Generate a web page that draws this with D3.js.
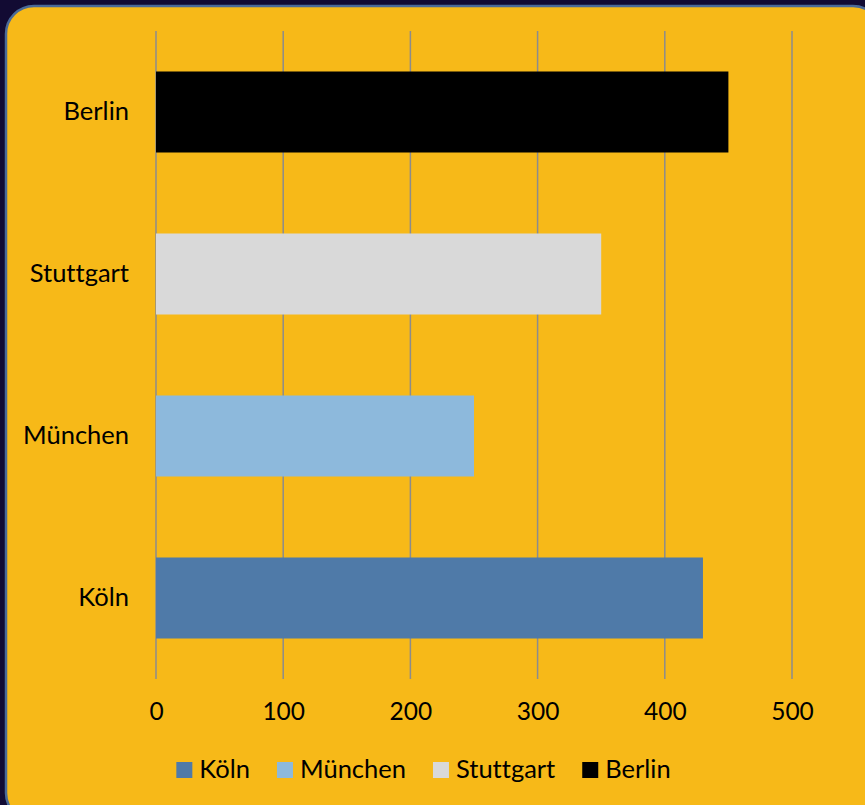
<!DOCTYPE html>
<html><head><meta charset="utf-8">
<script src="https://cdn.jsdelivr.net/npm/d3@7"></script>
<style>html,body{margin:0;padding:0;background:#120b33;overflow:hidden}text{font-variant-ligatures:none;font-feature-settings:"liga" 0}</style>
</head><body>
<svg id="chart" width="865" height="805"></svg>
<script>
const categories = ["Berlin", "Stuttgart", "München", "Köln"];
const values = [450, 350, 250, 430];
const colors = ["#000000", "#d9d9d9", "#8db9dc", "#4f7aa8"];
const legendOrder = ["Köln", "München", "Stuttgart", "Berlin"];
const xTicks = [0, 100, 200, 300, 400, 500];

const font = "Lato, 'Open Sans', sans-serif";
const svg = d3.select("#chart");
svg.append("rect").attr("width", 865).attr("height", 805).attr("fill", "#120b33");
svg.append("rect").attr("x", 6).attr("y", 6).attr("width", 875).attr("height", 815)
  .attr("rx", 28).attr("fill", "#f7b918").attr("stroke", "#4a6a98").attr("stroke-width", 2.5);

const x = d3.scaleLinear().domain([0, 500]).range([156, 792]);
const y = d3.scaleBand().domain(categories).range([31, 679]).paddingInner(0.5).paddingOuter(0.25);

// gridlines
svg.append("g").selectAll("line").data(xTicks).join("line")
  .attr("x1", d => x(d)).attr("x2", d => x(d)).attr("y1", 31).attr("y2", 679)
  .attr("stroke", "#8c8c8c").attr("stroke-width", 1.5);

// bars
svg.append("g").selectAll("rect").data(categories).join("rect")
  .attr("x", x(0)).attr("y", d => y(d))
  .attr("width", (d, i) => x(values[i]) - x(0)).attr("height", y.bandwidth())
  .attr("fill", (d, i) => colors[i]);

// x axis labels
const xAxis = d3.axisBottom(x).tickValues(xTicks).tickSize(0).tickPadding(0);
const gx = svg.append("g").attr("transform", "translate(0,705)").call(xAxis);
gx.select(".domain").remove();
gx.selectAll("text").attr("font-family", font).attr("font-size", 24.5).attr("fill", "#000")
  .attr("dy", "0.71em").attr("y", -2);

// y axis labels
const yAxis = d3.axisLeft(y).tickSize(0).tickPadding(0);
const gy = svg.append("g").attr("transform", "translate(129,0)").call(yAxis);
gy.select(".domain").remove();
gy.selectAll("text").attr("font-family", font).attr("font-size", 25.5).attr("fill", "#000");

// legend
const lg = svg.append("g");
let cx = 0;
legendOrder.forEach(name => {
  const i = categories.indexOf(name);
  const g = lg.append("g").attr("transform", `translate(${cx},0)`);
  g.append("rect").attr("x", 0).attr("y", 762).attr("width", 16).attr("height", 16).attr("fill", colors[i]);
  const t = g.append("text").attr("x", 23).attr("y", 778).attr("font-family", font)
    .attr("font-size", 25.5).attr("fill", "#000").text(name);
  const w = t.node().getComputedTextLength();
  cx += 23 + w + 27;
});
const total = cx - 27;
lg.attr("transform", `translate(${423.5 - total / 2},0)`);
</script>
</body></html>
